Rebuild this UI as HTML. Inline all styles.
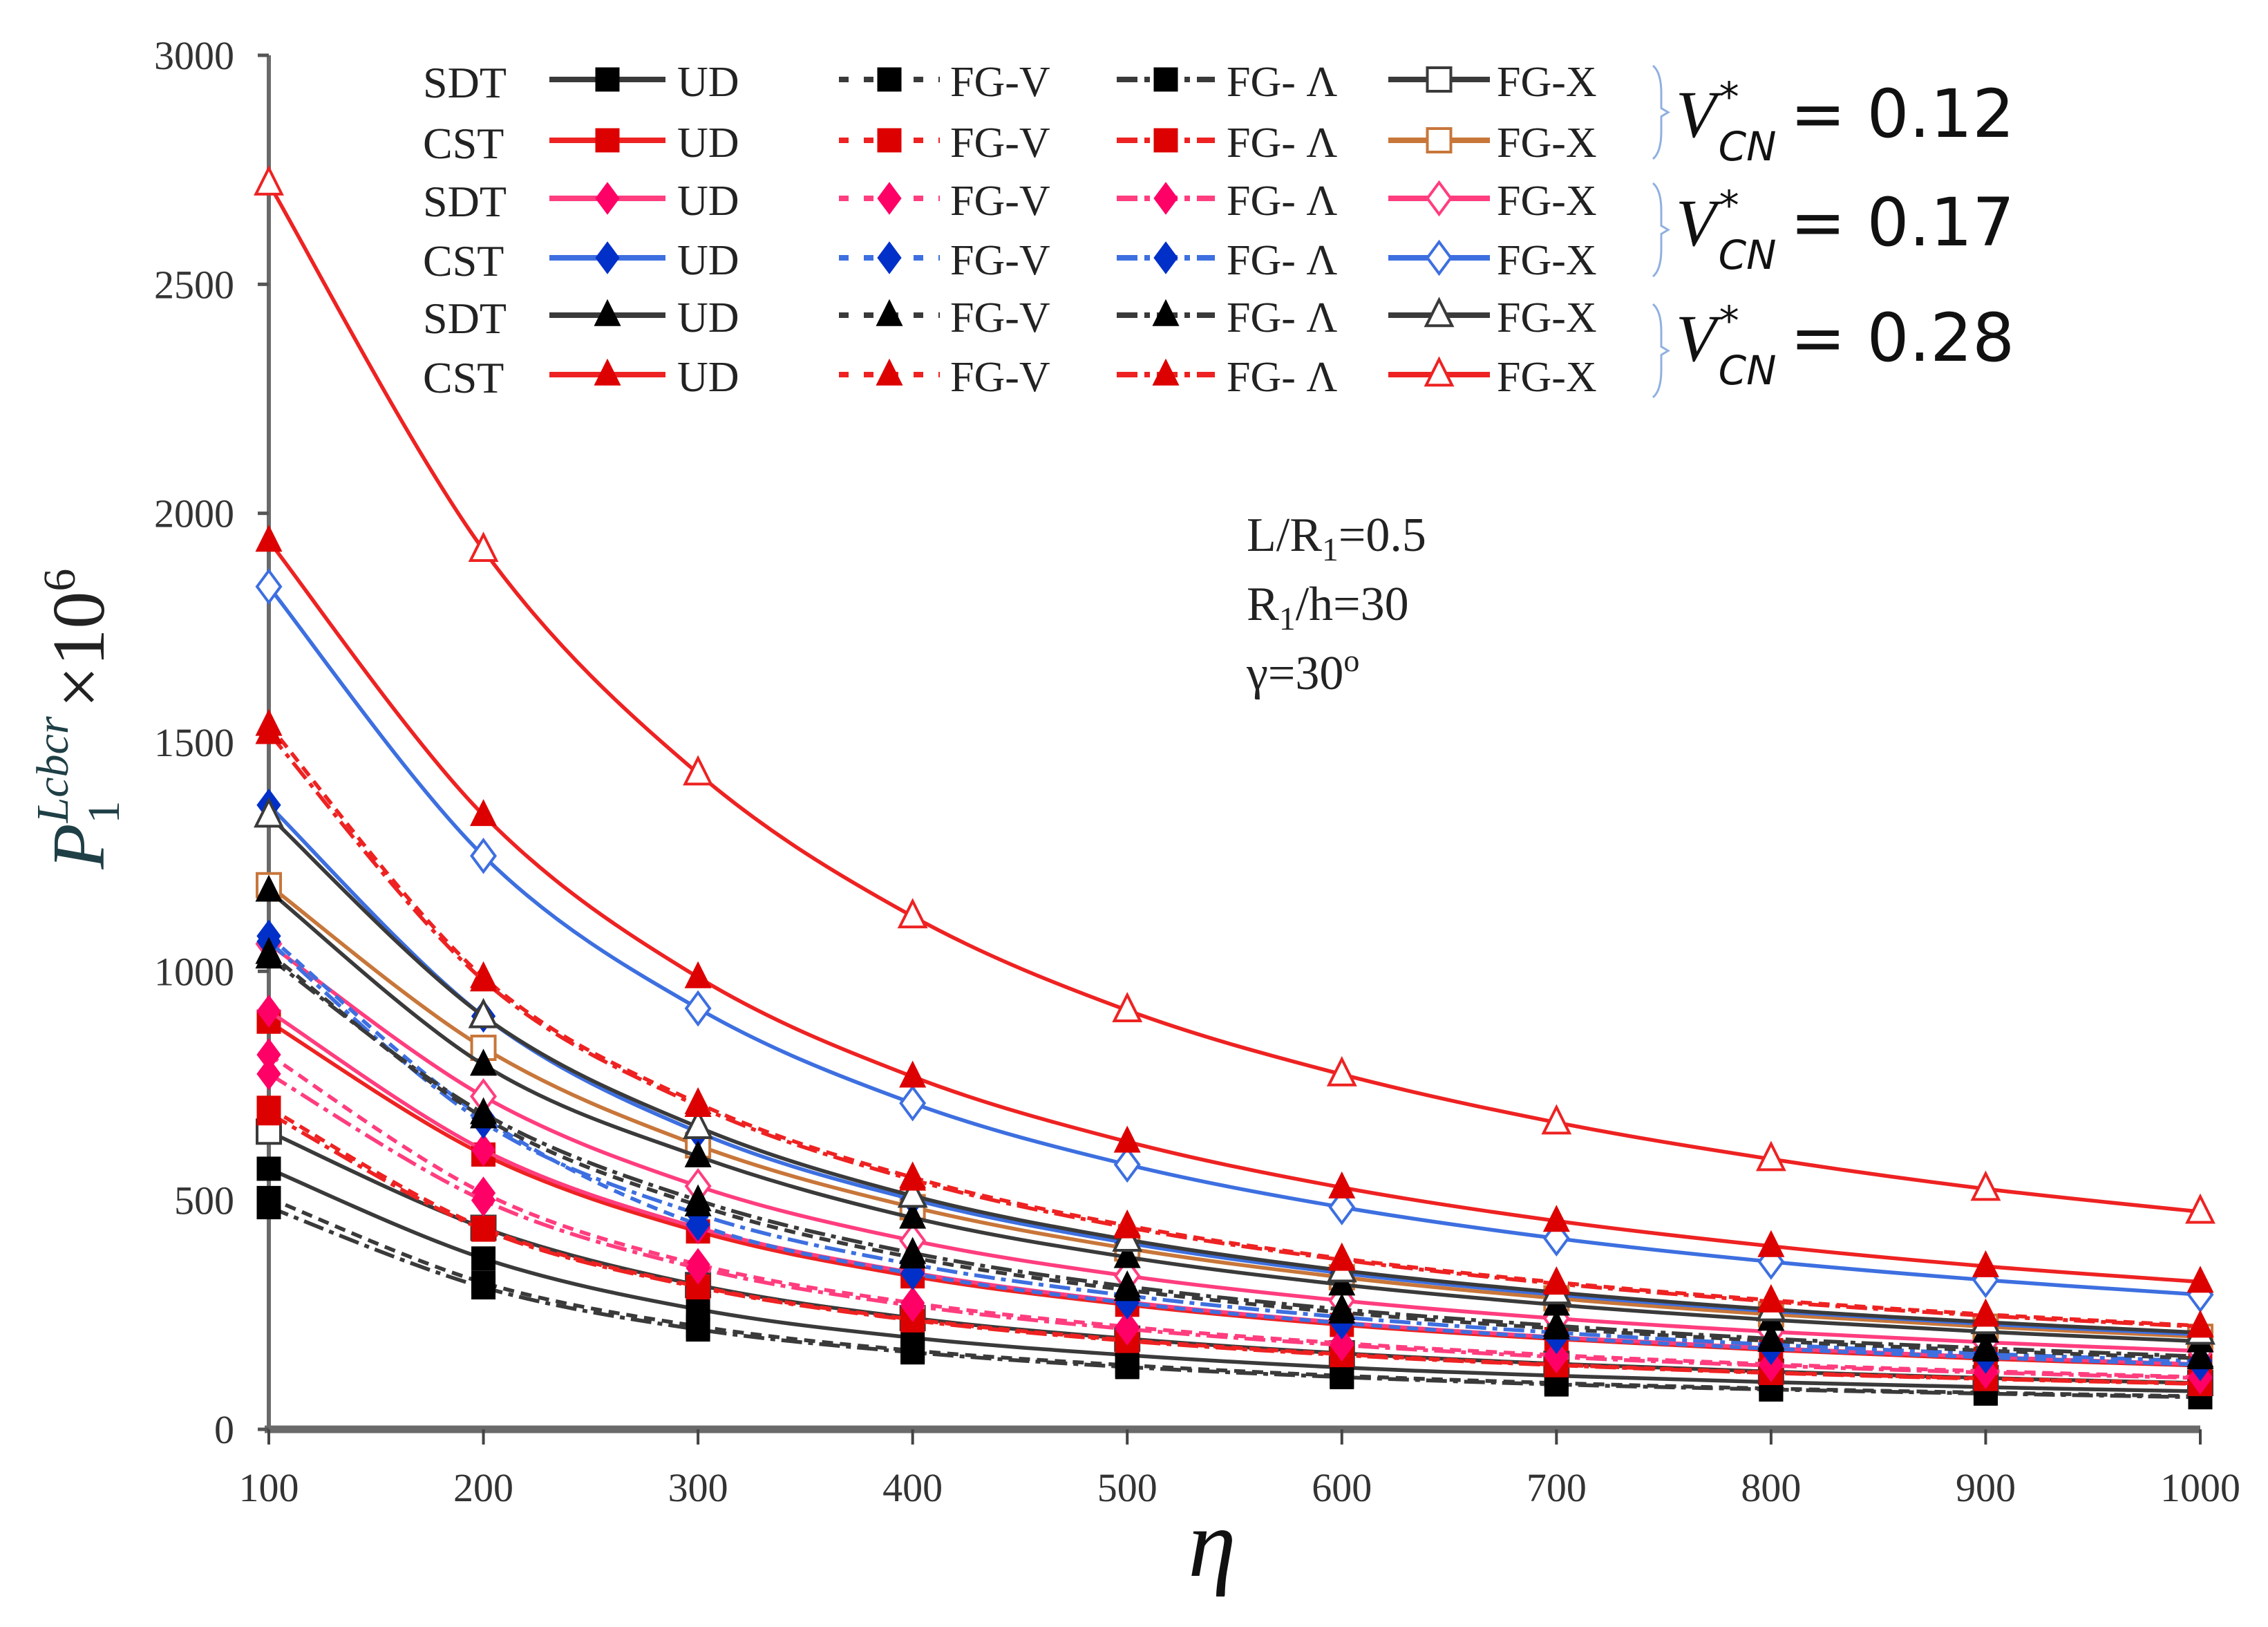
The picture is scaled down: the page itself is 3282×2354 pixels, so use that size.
<!DOCTYPE html>
<html><head><meta charset="utf-8"><style>
html,body{margin:0;padding:0;background:#fff;}
svg{display:block;font-family:"Liberation Serif",serif;}
</style></head><body>
<svg id="chart" width="3282" height="2354" viewBox="0 0 3282 2354" xmlns="http://www.w3.org/2000/svg">
<rect x="0" y="0" width="3282" height="2354" fill="#fff"/>
<g id="plot"></g>
<g id="legend"></g>
<g font-size="70" fill="#222">
<text x="1804" y="797">L/R<tspan font-size="48" dy="14">1</tspan><tspan dy="-14">=0.5</tspan></text>
<text x="1804" y="897">R<tspan font-size="48" dy="14">1</tspan><tspan dy="-14">/h=30</tspan></text>
<text x="1804" y="997">γ=30<tspan font-size="46" dy="-26">o</tspan></text>
</g>
<text x="1754" y="2280" font-size="140" font-style="italic" text-anchor="middle" fill="#111">η</text>
<text transform="translate(150,1040) rotate(-90)" text-anchor="middle" font-size="108" fill="#222"><tspan font-style="italic" fill="#1f3f46">P</tspan><tspan font-size="66" dy="22" fill="#1f3f46">1</tspan><tspan font-size="66" font-style="italic" dy="-74" dx="-32" fill="#1f3f46">Lcbcr</tspan><tspan dy="52" dx="12">×10</tspan><tspan font-size="66" dy="-42">6</tspan></text>
</svg>
<script>
const xValues = [100,200,300,400,500,600,700,800,900,1000];
const xTicks = [100,200,300,400,500,600,700,800,900,1000];
const yTicks = [0,500,1000,1500,2000,2500,3000];
const rowLabels = ["SDT","CST","SDT","CST","SDT","CST"];
const colLabels = ["UD","FG-V","FG- Λ","FG-X"];
const vcnLabels = ["0.12","0.17","0.28"];
// series values (eta = 100..1000)
const s01 = [569,373,262,200,162,135,117,103,92,83];
const s02 = [505,320,225,172,140,117,101,89,80,72];
const s03 = [485,310,218,168,136,114,98,87,78,70];
const s04 = [650,440,315,243,198,166,143,126,112,101];
const s05 = [890,600,432,334,272,228,197,173,154,139];
const s06 = [702,440,312,240,195,164,141,124,111,100];
const s07 = [690,436,310,238,193,162,140,123,110,99];
const s08 = [1188,833,620,485,395,332,286,251,224,202];
const s09 = [913,610,440,342,278,233,201,177,158,142];
const s10 = [818,516,360,276,224,188,162,142,127,114];
const s11 = [776,500,352,270,219,184,158,139,124,112];
const s12 = [1060,727,531,412,335,281,242,213,190,171];
const s13 = [1363,902,649,502,407,341,294,258,230,207];
const s14 = [1077,680,447,340,276,232,200,176,157,141];
const s15 = [1065,670,470,360,292,245,211,185,165,149];
const s16 = [1840,1252,919,712,578,485,417,366,326,294];
const s17 = [1176,796,596,462,376,316,272,239,213,192];
const s18 = [1040,681,489,375,304,255,220,193,172,155];
const s19 = [1030,690,500,385,312,262,226,198,177,159];
const s20 = [1340,902,660,510,414,347,299,262,234,211];
const s21 = [1940,1341,987,770,628,528,455,400,356,322];
const s22 = [1538,987,712,550,445,373,321,282,251,226];
const s23 = [1520,980,706,545,441,370,318,279,248,224];
const s24 = [2720,1920,1432,1120,915,775,670,590,525,475];
const seriesData = [s01,s02,s03,s04,s05,s06,s07,s08,s09,s10,s11,s12,s13,s14,s15,s16,s17,s18,s19,s20,s21,s22,s23,s24];

const NS="http://www.w3.org/2000/svg";
const X0=389,X1=3184,Y0=2068,Y1=80;
function xs(v){return X0+(v-100)/900*(X1-X0);}
function ys(v){return Y0-v/3000*(Y0-Y1);}
function mk(tag,attrs,parent){const e=document.createElementNS(NS,tag);for(const k in attrs)e.setAttribute(k,attrs[k]);parent.appendChild(e);return e;}

const groups=[["#3a3a3a","#000","square"],["#ee2222","#dd0000","square"],["#ff3d7f","#ff0066","diamond"],["#3d6fe0","#0030c8","diamond"],["#3a3a3a","#000","triangle"],["#ee2222","#dd0000","triangle"]];
const dashes=[null,"16,10","30,9,7,9",null];

const plot=document.getElementById('plot');
const yAxis=mk('line',{x1:X0,y1:Y1,x2:X0,y2:Y0,stroke:'#6a6a6a','stroke-width':6},plot);


const xAxis=mk('line',{x1:X0-6,y1:Y0,x2:X1,y2:Y0,stroke:'#6a6a6a','stroke-width':11},plot);


yTicks.forEach(t=>{
  const tk=mk('line',{x1:X0-16,y1:ys(t),x2:X0,y2:ys(t),stroke:'#555','stroke-width':5},plot);
  
  
  const lb=mk('text',{x:X0-50,y:ys(t)+20,'font-size':58,'text-anchor':'end',fill:'#333'},plot);
  
  
  lb.textContent=t;
});
xTicks.forEach(t=>{
  const tk=mk('line',{x1:xs(t),y1:Y0,x2:xs(t),y2:Y0+22,stroke:'#444','stroke-width':4},plot);
  
  
  const lb=mk('text',{x:xs(t),y:2172,'font-size':58,'text-anchor':'middle',fill:'#333'},plot);
  
  
  lb.textContent=t;
});

function pathFor(vals){
  const p=vals.map((v,i)=>[xs(xValues[i]),ys(v)]);
  let d='M'+p[0][0]+','+p[0][1];
  for(let i=0;i<p.length-1;i++){
    const a=p[Math.max(0,i-1)],b=p[i],c=p[i+1],e=p[Math.min(p.length-1,i+2)];
    const c1=[b[0]+(c[0]-a[0])/6,b[1]+(c[1]-a[1])/6];
    const c2=[c[0]-(e[0]-b[0])/6,c[1]-(e[1]-b[1])/6];
    d+=' C'+c1[0]+','+c1[1]+' '+c2[0]+','+c2[1]+' '+c[0]+','+c[1];
  }
  return d;
}
function marker(parent,shape,x,y,fill,stroke,open,r){
  let e;
  const fillC=open?'#fff':fill, strk=open?stroke:fill, sw=open?4:1;
  if(shape==='square') e=mk('rect',{x:x-r,y:y-r,width:2*r,height:2*r,fill:fillC,stroke:strk,'stroke-width':sw},parent);
  else if(shape==='diamond') e=mk('polygon',{points:`${x},${y-r*1.35} ${x+r},${y} ${x},${y+r*1.35} ${x-r},${y}`,fill:fillC,stroke:strk,'stroke-width':sw},parent);
  else e=mk('polygon',{points:`${x},${y-r*1.3} ${x+r*1.1},${y+r*0.9} ${x-r*1.1},${y+r*0.9}`,fill:fillC,stroke:strk,'stroke-width':sw},parent);
  return e;
}

seriesData.forEach((vals,idx)=>{
  const g=Math.floor(idx/4), c=idx%4;
  const [lc,mc,shape]=groups[g];
  const lineColor=(g===1&&c===3)?'#c8763a':lc;
  const markColor=(g===1&&c===3)?'#c8763a':(c===3?lc:mc);
  const sg=mk('g',{},plot);
  
  
  const attrs={d:pathFor(vals),fill:'none',stroke:lineColor,'stroke-width':5.5};
  if(dashes[c])attrs['stroke-dasharray']=dashes[c];
  const ln=mk('path',attrs,sg);
  
  
  vals.forEach((v,i)=>{
    const m=marker(sg,shape,xs(xValues[i]),ys(v),markColor,markColor,c===3,17);
    
    
  });
});

const leg=document.getElementById('legend');
const rowY=[115,203,287,373,456,542];
const lineX=[[795,963],[1214,1360],[1616,1758],[2009,2156]];
const textX=[980,1375,1775,2166];
rowLabels.forEach((lab,r)=>{
  const t=mk('text',{x:612,y:rowY[r]+26,'font-size':64,fill:'#222'},leg);
  
  
  t.textContent=lab;
  const [lc,mc,shape]=groups[r];
  for(let c=0;c<4;c++){
    const lineColor=(r===1&&c===3)?'#c8763a':lc;
    const markColor=(r===1&&c===3)?'#c8763a':(c===3?lc:mc);
    const a={x1:lineX[c][0],y1:rowY[r],x2:lineX[c][1],y2:rowY[r],stroke:lineColor,'stroke-width':8};
    if(dashes[c])a['stroke-dasharray']=dashes[c]==='16,10'?'14,22':'30,10,8,10';
    const l=mk('line',a,leg);
    
    
    const m=marker(leg,shape,(lineX[c][0]+lineX[c][1])/2,rowY[r],markColor,markColor,c===3,17);
    
    
    const tx=mk('text',{x:textX[c],y:rowY[r]+24,'font-size':62,fill:'#222'},leg);
    
    
    tx.textContent=colLabels[c];
  }
});
const braceY=[[95,230],[265,400],[440,575]];
const vY=[198,355,522];
vcnLabels.forEach((v,i)=>{
  const b=mk('path',{d:`M2392,${braceY[i][0]} Q2404,${braceY[i][0]+10} 2404,${braceY[i][0]+40} L2404,${(braceY[i][0]+braceY[i][1])/2-6} L2414,${(braceY[i][0]+braceY[i][1])/2} L2404,${(braceY[i][0]+braceY[i][1])/2+6} L2404,${braceY[i][1]-40} Q2404,${braceY[i][1]-10} 2392,${braceY[i][1]}`,fill:'none',stroke:'#8fb0e0','stroke-width':3},leg);
  
  
  const t=mk('text',{x:2425,y:vY[i],'font-size':96,fill:'#111','font-family':'"DejaVu Sans","Liberation Sans",sans-serif'},leg);
  
  
  const ts1=mk('tspan',{'font-style':'italic','font-family':'"Liberation Serif",serif'},t);ts1.textContent='V';
  const ts2=mk('tspan',{'font-size':58,'font-style':'italic',dy:-38,dx:4},t);ts2.textContent='*';
  const ts3=mk('tspan',{'font-size':58,'font-style':'italic',dy:72,dx:-30},t);ts3.textContent='CN';
  const ts4=mk('tspan',{dy:-34,dx:20},t);ts4.textContent='= '+v;
});
</script>
</body></html>
